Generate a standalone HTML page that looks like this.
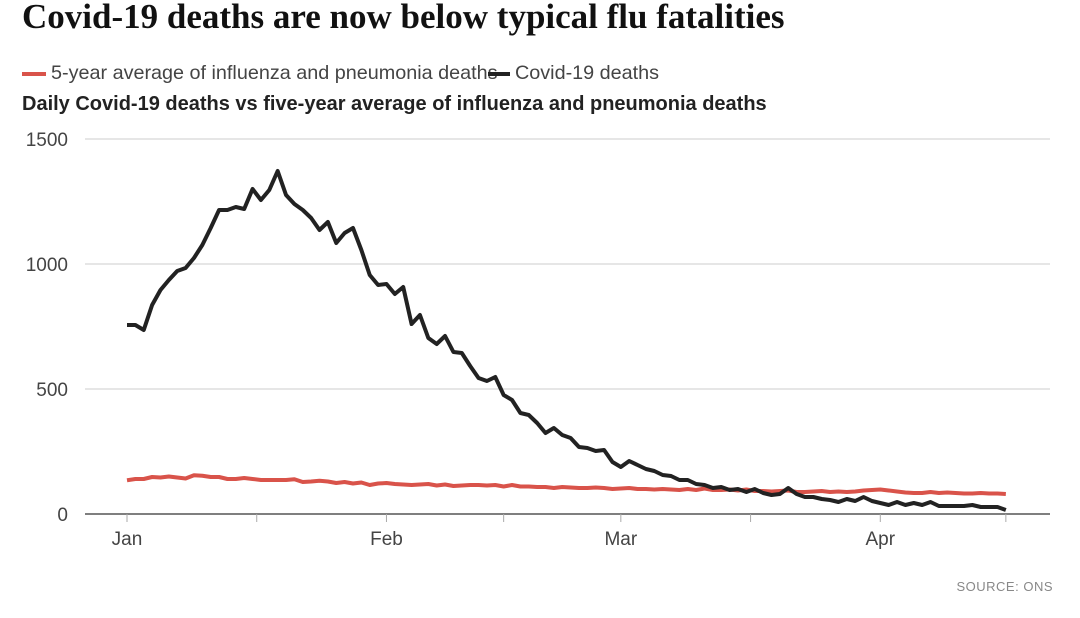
<!DOCTYPE html>
<html><head><meta charset="utf-8"><style>
body{margin:0;background:#fff;width:1080px;height:618px;overflow:hidden;font-family:"Liberation Sans",sans-serif}
#title{position:absolute;left:22px;top:-3px;font:bold 35px "Liberation Serif",serif;color:#111;letter-spacing:0px;white-space:nowrap}
.leg{position:absolute;top:62px;font-size:19.8px;color:#444;white-space:nowrap}
#sub{position:absolute;left:22px;top:93px;font-weight:bold;font-size:20px;color:#222;white-space:nowrap}
#src{position:absolute;right:27px;top:579px;font-size:13px;color:#888;letter-spacing:0.5px}
</style></head><body>
<div id="title">Covid-19 deaths are now below typical flu fatalities</div>
<div class="leg" style="left:22px"><span style="display:inline-block;width:24px;height:4px;background:#d9534a;vertical-align:middle;margin-right:5px"></span>5-year average of influenza and pneumonia deaths</div>
<div class="leg" style="left:488px"><span style="display:inline-block;width:22px;height:4px;background:#222;vertical-align:middle;margin-right:5px"></span>Covid-19 deaths</div>
<div id="sub">Daily Covid-19 deaths vs five-year average of influenza and pneumonia deaths</div>
<svg id="chart" width="1080" height="618" style="position:absolute;left:0;top:0"></svg>
<div id="src">SOURCE: ONS</div>
<script>
const covid=[756,756,736,836,896,936,972,984,1024,1076,1144,1216,1216,1228,1220,1300,1256,1296,1372,1276,1240,1216,1184,1136,1168,1084,1124,1144,1056,956,916,920,880,908,760,796,704,680,712,648,644,592,544,532,548,476,456,404,396,364,324,344,316,304,268,264,252,256,208,188,212,196,180,172,156,152,136,136,120,116,104,108,96,100,88,100,84,76,80,104,80,68,68,60,56,48,60,52,68,52,44,36,48,36,44,36,48,32,32,32,32,36,28,28,28,16];
const flu=[135,140,140,148,146,150,146,142,155,153,148,148,140,140,144,140,136,136,136,136,139,128,130,133,130,124,128,122,126,116,122,124,120,118,116,118,120,114,118,112,114,116,116,114,116,110,116,110,110,108,108,104,108,106,104,104,106,104,100,102,104,100,100,98,100,98,96,100,96,102,96,96,98,94,98,92,92,90,92,94,88,88,90,92,88,90,88,90,94,96,98,94,90,86,84,84,88,84,86,84,82,82,84,82,82,80];
const yTicks=[0,500,1000,1500];
const monthLabels=['Jan','Feb','Mar','Apr'];
const monthDays=[0,31,59,90];
const tickDays=[0,15.5,31,45,59,74.5,90,105];
const NS='http://www.w3.org/2000/svg';
const svg=document.getElementById('chart');
const x=d=>127+d*8.37;
const y=v=>514-v*0.25;
function el(t,a){const e=document.createElementNS(NS,t);for(const k in a)e.setAttribute(k,a[k]);svg.appendChild(e);return e;}
yTicks.forEach(v=>{
 if(v>0){const g=el('line',{x1:85,x2:1050,y1:y(v),y2:y(v),stroke:'#ddd','stroke-width':1.5});
 
 }
 const t=el('text',{x:68,y:y(v)+7,'text-anchor':'end','font-size':19,fill:'#444','font-family':'Liberation Sans, sans-serif'});
 t.textContent=v;
 
 
});
const ax=el('line',{x1:85,x2:1050,y1:514,y2:514,stroke:'#555','stroke-width':1.5});


tickDays.forEach(d=>{const t=el('line',{x1:x(d),x2:x(d),y1:514,y2:522,stroke:'#aaa','stroke-width':1});
 
 });
monthLabels.forEach((m,i)=>{const t=el('text',{x:x(monthDays[i]),y:545,'text-anchor':'middle','font-size':19,fill:'#444','font-family':'Liberation Sans, sans-serif'});
 t.textContent=m;
 
 });
function line(data,color,name){
 const p=el('polyline',{points:data.map((v,i)=>x(i)+','+y(v)).join(' '),fill:'none',stroke:color,'stroke-width':4,'stroke-linejoin':'round'});
 
 
}
line(flu,'#d9534a','flu-average-line');
line(covid,'#222','covid-deaths-line');
</script>
</body></html>
